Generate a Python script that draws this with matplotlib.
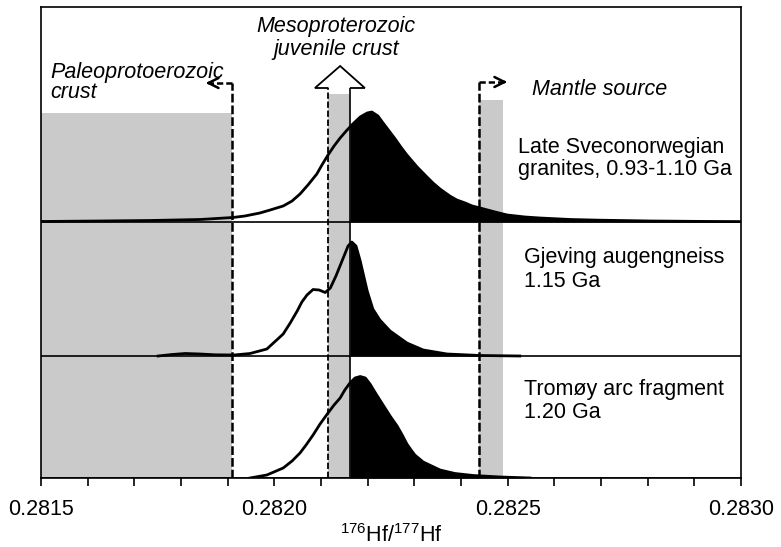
import numpy as np
import matplotlib
matplotlib.use('Agg')
import matplotlib.pyplot as plt
from matplotlib.patches import Rectangle, Polygon

plt.rcParams['font.family'] = ['Liberation Sans', 'DejaVu Sans']
plt.rcParams['mathtext.fontset'] = 'custom'
plt.rcParams['mathtext.rm'] = 'Liberation Sans'
plt.rcParams['mathtext.it'] = 'Liberation Sans:italic'

# ---------------- data ----------------
late_x = [0.281500, 0.281626, 0.281734, 0.281841, 0.281911, 0.281937, 0.281969, 0.281991,
          0.282019, 0.282038, 0.282055, 0.282072, 0.282091, 0.282102, 0.282115, 0.282128,
          0.282141, 0.282154, 0.282166, 0.282184, 0.282199, 0.282209, 0.282222, 0.282233,
          0.282246, 0.282259, 0.282271, 0.282284, 0.282306, 0.282327, 0.282340, 0.282355,
          0.282376, 0.282391, 0.282409, 0.282424, 0.282441, 0.282473, 0.282499, 0.282537,
          0.282569, 0.282634, 0.282698, 0.282805, 0.282912, 0.283000]
late_y = [0.5, 1, 1.5, 2.5, 4.5, 6, 9, 12,
          16, 21, 28, 37, 48, 57, 67, 76,
          84, 91, 97, 105, 109, 110, 106, 99,
          91, 83, 75, 67, 55, 45, 39, 33,
          26, 22, 19, 16, 14, 10, 7, 5,
          4, 2.5, 1.8, 1, 0.6, 0.4]

gjev_x = [0.281751, 0.281781, 0.281809, 0.281841, 0.281873, 0.281914, 0.281948, 0.281984,
          0.282019, 0.282034, 0.282049, 0.282059, 0.282070, 0.282083, 0.282096, 0.282109,
          0.282120, 0.282132, 0.282145, 0.282158, 0.282166, 0.282175, 0.282184, 0.282199,
          0.282211, 0.282226, 0.282248, 0.282284, 0.282319, 0.282370, 0.282441, 0.282526]
gjev_y = [0, 1.5, 2.5, 2, 1.2, 1, 2.5, 7,
          22, 33, 45, 54, 61, 66.5, 66, 63.5,
          68, 80, 95, 110, 114, 110, 95, 65,
          47, 36, 25, 13, 6, 2, 0.5, 0]

trom_x = [0.281948, 0.281984, 0.282019, 0.282038, 0.282055, 0.282068, 0.282083, 0.282098,
          0.282115, 0.282128, 0.282141, 0.282151, 0.282162, 0.282173, 0.282184, 0.282195,
          0.282205, 0.282218, 0.282233, 0.282248, 0.282263, 0.282274, 0.282284, 0.282293,
          0.282301, 0.282319, 0.282355, 0.282387, 0.282426, 0.282484, 0.282548]
trom_y = [0, 3, 10, 17, 25, 33, 43, 54,
          65, 73, 80, 88, 95, 100, 101.5, 100,
          94, 84, 73, 62, 52, 43, 34, 28,
          23, 16, 8, 4.5, 2.5, 1, 0]

series_x = [late_x, gjev_x, trom_x]
series_y = [late_y, gjev_y, trom_y]
baselines = [256, 122, 0]
panel_labels = [("Late Sveconorwegian", "granites, 0.93-1.10 Ga"),
                ("Gjeving augengneiss", "1.15 Ga"),
                ("Tromøy arc fragment", "1.20 Ga")]

paleo_limit = 0.28191
meso_range = (0.282116, 0.282162)
mantle_range = (0.282438, 0.28249)

xlim = (0.2815, 0.2830)
major_ticks = [0.2815, 0.2820, 0.2825, 0.2830]
major_labels = ['0.2815', '0.2820', '0.2825', '0.2830']
minor_ticks = [0.2816, 0.2817, 0.2818, 0.2819, 0.2821, 0.2822, 0.2823, 0.2824,
               0.2826, 0.2827, 0.2828, 0.2829]

# ---------------- figure ----------------
fig = plt.figure(figsize=(7.81, 5.47), dpi=100)
ax = fig.add_axes([41/781, 69/547, 700/781, 471/547])
ax.set_xlim(*xlim)
ax.set_ylim(0, 471)

grey = '#cacaca'
FS = 15.5

# grey zones
ax.add_patch(Rectangle((xlim[0], 0), paleo_limit - xlim[0], 365, facecolor=grey, edgecolor='none', zorder=1))
ax.add_patch(Rectangle((meso_range[0], 0), meso_range[1] - meso_range[0], 384, facecolor=grey, edgecolor='none', zorder=1))
ax.add_patch(Rectangle((mantle_range[0], 0), mantle_range[1] - mantle_range[0], 378, facecolor=grey, edgecolor='none', zorder=1))

# curves
for xs, ys, b in zip(series_x, series_y, baselines):
    xs = np.asarray(xs); ys = np.asarray(ys)
    cut = meso_range[1]
    ycut = np.interp(cut, xs, ys)
    m = xs > cut
    fx = np.concatenate([[cut], xs[m]])
    fy = np.concatenate([[ycut], ys[m]])
    ax.fill_between(fx, b, b + fy, color='black', lw=0, zorder=3)
    ax.plot(xs, b + ys, color='black', lw=2.0, solid_joinstyle='round', zorder=4)
    ax.axhline(b, color='black', lw=1.2, zorder=5)

# dashed boundary lines
dash = (0, (3.5, 1.2))
ax.plot([paleo_limit, paleo_limit], [0, 395], color='black', lw=1.8, ls=dash, zorder=6)
ax.plot([paleo_limit, 0.281860], [395, 395], color='black', lw=1.8, ls=(0, (2.5, 1.2)), zorder=6)
ax.annotate('', xy=(0.281847, 395), xytext=(0.281870, 395),
            arrowprops=dict(arrowstyle='->', lw=1.8, color='black', mutation_scale=18), zorder=6)

ax.plot([mantle_range[0], mantle_range[0]], [0, 396], color='black', lw=1.8, ls=dash, zorder=6)
ax.plot([mantle_range[0], 0.282490], [396, 396], color='black', lw=1.8, ls=(0, (2.5, 1.2)), zorder=6)
ax.annotate('', xy=(0.282505, 396), xytext=(0.282482, 396),
            arrowprops=dict(arrowstyle='->', lw=1.8, color='black', mutation_scale=18), zorder=6)

# Mesoproterozoic hollow arrow
ax.plot([meso_range[0], meso_range[0]], [0, 390], color='black', lw=1.3, ls=(0, (3.5, 1.5)), zorder=6)
ax.plot([meso_range[1], meso_range[1]], [0, 390], color='black', lw=1.2, zorder=6)
head = Polygon([(meso_range[0], 390), (0.282087, 390), (0.282141, 412), (0.282194, 390), (meso_range[1], 390)],
               closed=False, facecolor='white', edgecolor='black', lw=1.3, zorder=6)
ax.add_patch(head)

# annotations
ax.text(0.281519, 400, 'Paleoprotoerozoic', style='italic', fontsize=FS, va='baseline', ha='left', zorder=7)
ax.text(0.281519, 380, 'crust', style='italic', fontsize=FS, va='baseline', ha='left', zorder=7)
ax.text(0.282132, 446, 'Mesoproterozoic', style='italic', fontsize=FS, va='baseline', ha='center', zorder=7)
ax.text(0.282132, 423, 'juvenile crust', style='italic', fontsize=FS, va='baseline', ha='center', zorder=7)
ax.text(0.282552, 383, 'Mantle source', style='italic', fontsize=FS, va='baseline', ha='left', zorder=7)

label_pos = [(0.282522, 325, 303), (0.282535, 215, 191), (0.282535, 83, 60)]
for (l1, l2), (x, y1, y2) in zip(panel_labels, label_pos):
    ax.text(x, y1, l1, fontsize=FS, va='baseline', ha='left', zorder=7)
    ax.text(x, y2, l2, fontsize=FS, va='baseline', ha='left', zorder=7)

# axes styling
ax.set_yticks([])
ax.set_xticks(major_ticks)
ax.set_xticklabels(major_labels, fontsize=FS)
ax.set_xticks(minor_ticks, minor=True)
ax.tick_params(axis='x', which='both', direction='out', length=6, width=1.2, pad=9)
for s in ax.spines.values():
    s.set_linewidth(1.2)
    s.set_zorder(8)
ax.set_xlabel(r'$^{176}$Hf/$^{177}$Hf', fontsize=FS, labelpad=3)

fig.savefig('out.png', dpi=100)
